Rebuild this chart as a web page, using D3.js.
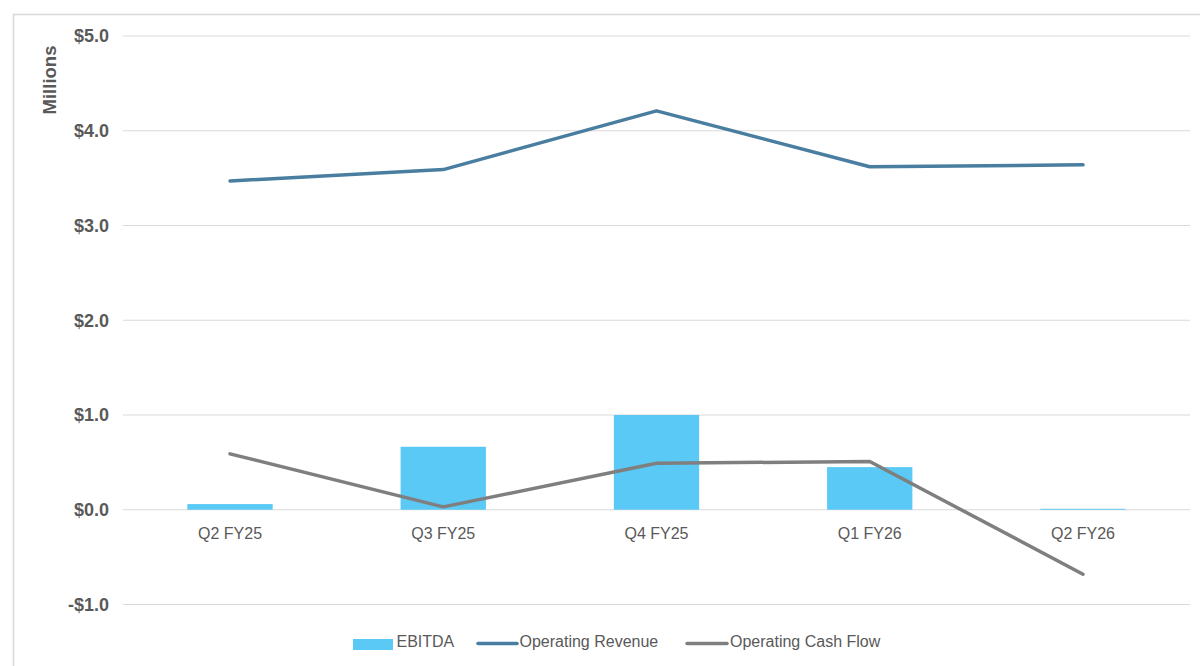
<!DOCTYPE html>
<html><head><meta charset="utf-8">
<script src="https://cdn.jsdelivr.net/npm/d3@7"></script>
<style>body{margin:0;background:#fff}svg{display:block}</style>
</head><body>
<svg id="c" width="1200" height="666"></svg>
<script>
const categories = ["Q2 FY25","Q3 FY25","Q4 FY25","Q1 FY26","Q2 FY26"];
const ebitda = [0.06, 0.665, 1.0, 0.45, 0.01];
const operatingRevenue = [3.47, 3.59, 4.21, 3.62, 3.64];
const operatingCashFlow = [0.59, 0.03, 0.49, 0.51, -0.68];
const yTicks = [-1, 0, 1, 2, 3, 4, 5];
const seriesNames = ["EBITDA","Operating Revenue","Operating Cash Flow"];

const svg = d3.select("#c");
// chart border
svg.append("rect").attr("x",13.5).attr("y",14.5).attr("width",1200).attr("height",700)
  .attr("fill","none").attr("stroke","#d9d9d9").attr("stroke-width",1.5);

const x = d3.scaleBand().domain(categories).range([123.4,1189.6]).paddingInner(0.6).paddingOuter(0.3);
const xc = d => x(d) + x.bandwidth()/2;
const y = d3.scaleLinear().domain([-1,5]).range([604.5,36]);

// gridlines
svg.append("g").selectAll("line").data(yTicks).join("line")
  .attr("x1",123).attr("x2",1190).attr("y1",d=>y(d)).attr("y2",d=>y(d))
  .attr("stroke","#d9d9d9").attr("stroke-width",1.2);

// y tick labels
svg.append("g").selectAll("text").data(yTicks).join("text")
  .attr("x",109).attr("y",d=>y(d)).attr("dy","0.35em").attr("text-anchor","end")
  .attr("font-family","Liberation Sans, Arial, sans-serif").attr("font-weight","bold")
  .attr("font-size",18).attr("fill","#595959")
  .text(d => (d<0?"-":"") + "$" + Math.abs(d).toFixed(1));

// axis title
svg.append("text").attr("transform","translate(55.5,80) rotate(-90)").attr("text-anchor","middle")
  .attr("font-family","Liberation Sans, Arial, sans-serif").attr("font-weight","bold")
  .attr("font-size",18.5).attr("fill","#595959").text("Millions");

// bars
svg.append("g").selectAll("rect").data(categories).join("rect")
  .attr("x",d=>x(d)).attr("width",x.bandwidth())
  .attr("y",(d,i)=>y(Math.max(0,ebitda[i])))
  .attr("height",(d,i)=>Math.abs(y(ebitda[i])-y(0)))
  .attr("fill","#5BC9F5");

// x labels
svg.append("g").selectAll("text").data(categories).join("text")
  .attr("x",d=>xc(d)).attr("y",539).attr("text-anchor","middle")
  .attr("font-family","Liberation Sans, Arial, sans-serif").attr("font-size",16)
  .attr("fill","#595959").text(d=>d);

// lines
const line = d3.line().x((d,i)=>xc(categories[i])).y(d=>y(d));
svg.append("path").datum(operatingRevenue).attr("d",line).attr("fill","none")
  .attr("stroke","#4A7EA0").attr("stroke-width",3.5).attr("stroke-linecap","round").attr("stroke-linejoin","round");
svg.append("path").datum(operatingCashFlow).attr("d",line).attr("fill","none")
  .attr("stroke","#7F7F7F").attr("stroke-width",3.5).attr("stroke-linecap","round").attr("stroke-linejoin","round");

// legend
const lg = svg.append("g").attr("font-family","Liberation Sans, Arial, sans-serif").attr("font-size",16).attr("fill","#595959");
lg.append("rect").attr("x",353).attr("y",639).attr("width",40).attr("height",11).attr("fill","#5BC9F5");
lg.append("text").attr("x",396.5).attr("y",647.3).text(seriesNames[0]);
lg.append("line").attr("x1",478).attr("x2",517).attr("y1",643.5).attr("y2",643.5).attr("stroke","#4A7EA0").attr("stroke-width",3.5).attr("stroke-linecap","round");
lg.append("text").attr("x",519.5).attr("y",647.3).text(seriesNames[1]);
lg.append("line").attr("x1",687).attr("x2",727).attr("y1",643.5).attr("y2",643.5).attr("stroke","#7F7F7F").attr("stroke-width",3.5).attr("stroke-linecap","round");
lg.append("text").attr("x",730).attr("y",647.3).text(seriesNames[2]);
</script>
</body></html>
